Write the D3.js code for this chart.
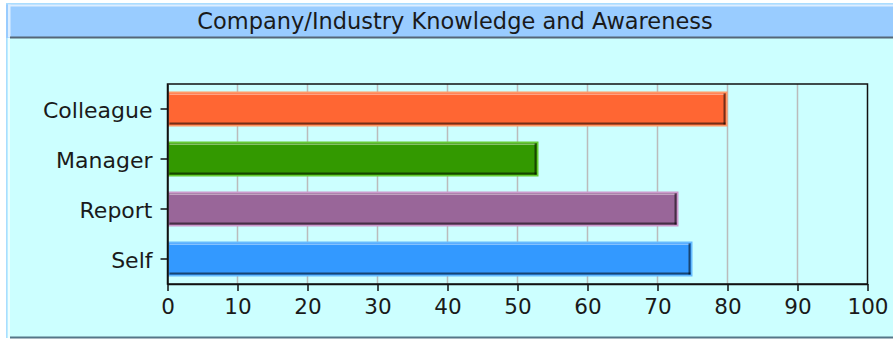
<!DOCTYPE html>
<html>
<head>
<meta charset="utf-8">
<script src="https://cdn.jsdelivr.net/npm/d3@7/dist/d3.min.js"></script>
<style>
  html, body { margin: 0; padding: 0; background: #ffffff; }
  svg { display: block; }
  text { font-family: "DejaVu Sans", sans-serif; fill: #1a1a1a; }
</style>
</head>
<body>
<svg id="chart" width="893" height="340"></svg>
<script>
// Chart content
const title = "Company/Industry Knowledge and Awareness";
const categories = ["Colleague", "Manager", "Report", "Self"];
const values = [80, 53, 73, 75];
const fills = ["#ff6633", "#339900", "#996699", "#3399ff"];
const edges = ["#ff9966", "#66cc33", "#cc99cc", "#66bbff"];
const xTicks = [0, 10, 20, 30, 40, 50, 60, 70, 80, 90, 100];

const W = 893, H = 340;
const plot = { left: 167.5, right: 867.5, top: 84, bottom: 284 };

const svg = d3.select("#chart");

// Panel background and frame
svg.append("rect").attr("x", 6).attr("y", 3).attr("width", W - 6).attr("height", 335).attr("fill", "#ccffff");
svg.append("rect").attr("x", 6).attr("y", 3).attr("width", 1.5).attr("height", 335).attr("fill", "#aaddff");
svg.append("rect").attr("x", 8).attr("y", 3).attr("width", 2).attr("height", 335).attr("fill", "#eeffff");
svg.append("rect").attr("x", 10).attr("y", 336.5).attr("width", W - 10).attr("height", 2).attr("fill", "#557788");

// Title bar
svg.append("rect").attr("x", 6).attr("y", 3).attr("width", W - 6).attr("height", 35).attr("fill", "#99ccff");
svg.append("rect").attr("x", 6).attr("y", 3).attr("width", W - 6).attr("height", 1.5).attr("fill", "#aaddff");
svg.append("rect").attr("x", 8).attr("y", 4.5).attr("width", W - 8).attr("height", 2).attr("fill", "#ddeeff");
svg.append("rect").attr("x", 8).attr("y", 4.5).attr("width", 2.5).attr("height", 33).attr("fill", "#ddeeff");
svg.append("rect").attr("x", 10).attr("y", 36.5).attr("width", W - 10).attr("height", 2).attr("fill", "#556677");
svg.append("text")
  .attr("x", 455).attr("y", 29)
  .attr("text-anchor", "middle")
  .attr("font-size", 22.5)
  .text(title);

// Scales
const x = d3.scaleLinear().domain([0, 100]).range([plot.left, plot.right]);
const y = d3.scaleBand().domain(categories).range([plot.top, plot.bottom]).paddingInner(0.3).paddingOuter(0.15);

// Gridlines
svg.append("g")
  .selectAll("line")
  .data(xTicks.filter(t => t > 0 && t < 100))
  .join("line")
  .attr("x1", d => x(d)).attr("x2", d => x(d))
  .attr("y1", plot.top).attr("y2", plot.bottom)
  .attr("stroke", "#bbbbbb").attr("stroke-width", 1.5);

// Bars with bevelled edges
const bars = svg.append("g")
  .selectAll("g")
  .data(categories.map((c, i) => ({ c, v: values[i], fill: fills[i], edge: edges[i] })))
  .join("g");

bars.append("rect")
  .attr("x", x(0)).attr("y", d => y(d.c))
  .attr("width", d => x(d.v) - x(0)).attr("height", y.bandwidth())
  .attr("fill", d => d.edge);
bars.append("rect")
  .attr("x", x(0) + 1.5).attr("y", d => y(d.c) + 1.5)
  .attr("width", d => x(d.v) - x(0) - 3).attr("height", y.bandwidth() - 3)
  .attr("fill", d => d.fill);
// top highlight
bars.append("rect")
  .attr("x", x(0) + 2).attr("y", d => y(d.c) + 2)
  .attr("width", d => x(d.v) - x(0) - 5).attr("height", 1.5)
  .attr("fill", "#ffffff").attr("opacity", 0.4);
// bottom and right shade
bars.append("rect")
  .attr("x", x(0) + 2).attr("y", d => y(d.c) + y.bandwidth() - 4)
  .attr("width", d => x(d.v) - x(0) - 4).attr("height", 2)
  .attr("fill", "#000000").attr("opacity", 0.55);
bars.append("rect")
  .attr("x", d => x(d.v) - 4).attr("y", d => y(d.c) + 2)
  .attr("width", 2).attr("height", y.bandwidth() - 4)
  .attr("fill", "#000000").attr("opacity", 0.55);

// Plot frame
svg.append("rect")
  .attr("x", plot.left).attr("y", plot.top)
  .attr("width", plot.right - plot.left).attr("height", plot.bottom - plot.top)
  .attr("fill", "none").attr("stroke", "#111").attr("stroke-width", 1.5);

// Axes
const xAxis = svg.append("g")
  .attr("transform", `translate(0,${plot.bottom})`)
  .call(d3.axisBottom(x).tickValues(xTicks).tickSize(7).tickPadding(8).tickSizeOuter(0));
const yAxis = svg.append("g")
  .attr("transform", `translate(${plot.left},0)`)
  .call(d3.axisLeft(y).tickSize(7).tickPadding(8).tickSizeOuter(0));

[xAxis, yAxis].forEach(a => {
  a.select(".domain").attr("stroke", "#111").attr("stroke-width", 1.5);
  a.selectAll(".tick line").attr("stroke", "#111").attr("stroke-width", 1.5);
  a.selectAll(".tick text").attr("font-family", "DejaVu Sans, sans-serif").attr("fill", "#1a1a1a");
});
xAxis.selectAll(".tick text").attr("font-size", 21.5);
yAxis.selectAll(".tick text").attr("font-size", 22).attr("dy", "0.4em");
</script>
</body>
</html>
